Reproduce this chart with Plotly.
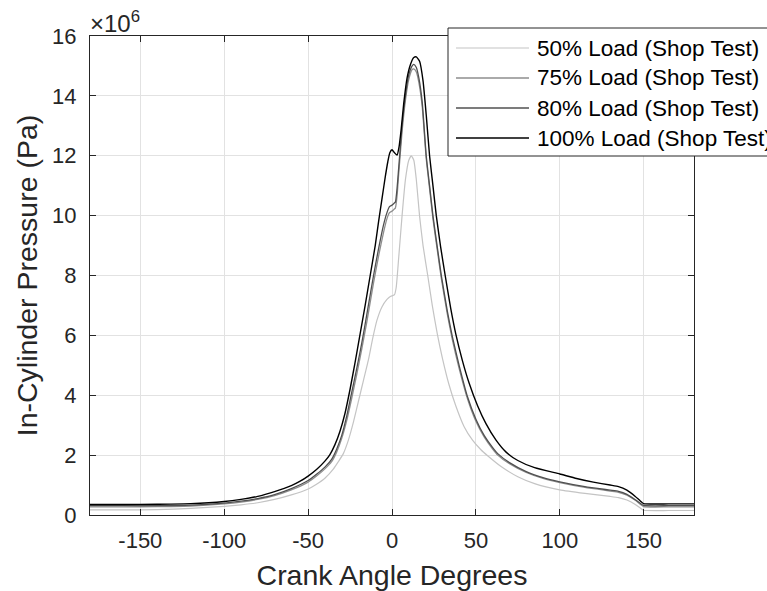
import plotly.graph_objects as go

# ---------------- data (pressure in units of 1e6 Pa) ----------------
deg_50 = [-180, -160, -140, -120, -100, -90, -80, -70, -60, -50, -45, -40, -35, -32, -29, -26, -23, -20, -17, -14,
          -11.5, -9, -6, -3, -1, 0.5, 1.5, 2.5, 4, 6, 8, 10, 11.5, 13, 14.5, 16.4, 18.5, 21.3, 24, 27, 30, 34, 38,
          43, 48, 53, 57, 65, 75, 85, 100, 115, 130, 135, 140, 145, 148, 150, 165, 180]
p_50 = [0.17, 0.17, 0.18, 0.22, 0.29, 0.34, 0.41, 0.52, 0.67, 0.87, 1.03, 1.23, 1.53, 1.78, 2.05, 2.5, 3.1, 3.8,
        4.5, 5.2, 5.9, 6.5, 6.95, 7.2, 7.3, 7.33, 7.36, 7.6, 8.6, 10.0, 11.2, 11.85, 12.0, 11.85, 11.2, 10.0, 9.0,
        8.0, 7.0, 6.05, 5.25, 4.35, 3.65, 2.95, 2.5, 2.18, 1.98, 1.62, 1.28, 1.05, 0.84, 0.72, 0.62, 0.58, 0.5,
        0.35, 0.23, 0.16, 0.15, 0.15]

deg_75 = [-180, -160, -140, -120, -100, -90, -80, -70, -60, -50, -45, -40, -36, -33, -30, -27, -24, -21, -18, -15,
          -11, -8, -5, -3, -1.5, 0, 1, 2, 3, 4, 6, 8, 10, 12, 13, 14.5, 16, 18, 20.4, 22.4, 24.4, 27, 29.4, 33, 36,
          40, 45, 50, 55, 60, 63, 70, 80, 90, 100, 115, 130, 135, 140, 145, 148, 150, 165, 180]
p_75 = [0.27, 0.27, 0.28, 0.3, 0.37, 0.43, 0.52, 0.65, 0.84, 1.1, 1.3, 1.54, 1.78, 2.1, 2.55, 3.15, 3.9, 4.7, 5.55,
        6.45, 7.75, 8.65, 9.45, 9.9, 10.1, 10.15, 10.2, 10.25, 10.65, 11.4, 12.8, 13.85, 14.55, 14.88, 14.9, 14.8,
        14.45, 13.65, 11.9, 10.9, 9.9, 8.85, 7.9, 6.7, 5.85, 4.9, 3.88, 3.13, 2.6, 2.2, 2.0, 1.71, 1.42, 1.22,
        1.08, 0.92, 0.8, 0.76, 0.66, 0.49, 0.36, 0.28, 0.27, 0.27]

deg_80 = [-180, -160, -140, -120, -100, -90, -80, -70, -60, -50, -45, -40, -36, -33, -30, -27, -24, -21, -18, -15,
          -11, -8, -5, -3, -1.5, 0, 1, 2, 3, 4, 6, 8, 10, 12, 13, 14.5, 16, 18, 20.4, 22.4, 24.4, 27, 29.4, 33, 36,
          40, 45, 50, 55, 60, 63, 70, 80, 90, 100, 115, 130, 135, 140, 145, 148, 150, 165, 180]
p_80 = [0.31, 0.31, 0.31, 0.33, 0.4, 0.46, 0.55, 0.68, 0.88, 1.15, 1.36, 1.6, 1.86, 2.2, 2.65, 3.3, 4.1, 4.9, 5.75,
        6.7, 8.0, 8.9, 9.7, 10.1, 10.3, 10.35, 10.4, 10.45, 10.9, 11.6, 13.0, 14.0, 14.7, 15.0, 15.05, 14.95, 14.6,
        13.8, 12.0, 11.0, 10.0, 8.95, 8.0, 6.8, 5.95, 5.0, 3.95, 3.2, 2.65, 2.25, 2.05, 1.75, 1.45, 1.25, 1.11,
        0.95, 0.83, 0.79, 0.69, 0.51, 0.39, 0.32, 0.31, 0.31]

deg_100 = [-180, -160, -140, -120, -100, -90, -80, -70, -60, -55, -50, -45, -40, -37, -34, -31, -28, -25, -22, -19,
           -16, -13, -10, -8, -6, -4, -2.5, -1.3, 0, 1.5, 3, 4.2, 5.5, 7, 9, 11, 13, 14.5, 16.5, 18.5, 20.5, 22.4,
           24.4, 26.4, 29, 31.7, 35, 38, 42, 46, 51, 56, 62, 68, 75, 85, 100, 110, 120, 130, 135, 140, 145, 148,
           150, 165, 180]
p_100 = [0.35, 0.35, 0.36, 0.38, 0.45, 0.52, 0.62, 0.78, 0.98, 1.12, 1.3, 1.52, 1.8, 2.02, 2.35, 2.8, 3.4, 4.2, 5.1,
         6.05, 7.0, 8.0, 9.0, 9.8, 10.55, 11.3, 11.8, 12.1, 12.2, 12.1, 12.02, 12.3, 12.9, 13.75, 14.6, 15.05,
         15.28, 15.3, 15.15, 14.5, 13.3, 12.0, 11.0, 10.0, 8.95, 8.0, 6.9, 6.05, 5.15, 4.4, 3.65, 3.05, 2.5, 2.1,
         1.82, 1.58, 1.37, 1.22, 1.1, 1.0, 0.95, 0.83, 0.62, 0.47, 0.38, 0.37, 0.37]

series_names = ["50% Load (Shop Test)", "75% Load (Shop Test)", "80% Load (Shop Test)", "100% Load (Shop Test)"]
series_x = [deg_50, deg_75, deg_80, deg_100]
series_y = [p_50, p_75, p_80, p_100]
series_colors = ["#c4c4c4", "#8e8e8e", "#505050", "#000000"]
series_widths = [1.2, 1.3, 1.3, 1.4]

x_ticks = [-150, -100, -50, 0, 50, 100, 150]
x_tick_text = ["-150", "-100", "-50", "0", "50", "100", "150"]
y_ticks = [0, 2, 4, 6, 8, 10, 12, 14, 16]
y_tick_text = ["0", "2", "4", "6", "8", "10", "12", "14", "16"]

FONT = "Arial, Liberation Sans, sans-serif"
AX = "#262626"

fig = go.Figure()
for xs, ys, nm, col, w in zip(series_x, series_y, series_names, series_colors, series_widths):
    fig.add_trace(go.Scatter(x=xs, y=ys, mode="lines", name=nm, showlegend=False,
                             line=dict(color=col, width=w, shape="spline", smoothing=0.5)))

W, H = 767, 591
# plot area in page pixels: x 90..694, y 36..515
L, R, T, B = 90, 694, 36, 515
def px(x):
    return (x - L) / (R - L)
def py(y):
    return (B - y) / (B - T)

shapes = [dict(type="rect", xref="paper", yref="paper", x0=px(448), x1=px(800), y0=py(156), y1=py(28),
               line=dict(color=AX, width=1), fillcolor="white", layer="above")]
annotations = []
row_y = [48, 78, 108, 138]
for nm, col, w, ry in zip(series_names, series_colors, series_widths, row_y):
    shapes.append(dict(type="line", xref="paper", yref="paper", x0=px(456), x1=px(529), y0=py(ry), y1=py(ry),
                       line=dict(color=col, width=w), layer="above"))
    annotations.append(dict(xref="paper", yref="paper", x=px(535), y=py(ry), xanchor="left", yanchor="middle",
                            text=nm, showarrow=False, font=dict(family=FONT, size=22.5, color="#000000")))

annotations.append(dict(xref="paper", yref="paper", x=px(88), y=py(22), xanchor="left", yanchor="middle",
                        text="×10<sup>6</sup>", showarrow=False, font=dict(family=FONT, size=24, color=AX)))

fig.update_layout(
    width=W, height=H,
    margin=dict(l=L, r=W - R, t=T, b=H - B, autoexpand=False),
    paper_bgcolor="white", plot_bgcolor="white",
    font=dict(family=FONT, size=22, color=AX),
    shapes=shapes, annotations=annotations,
    showlegend=False,
)
fig.update_xaxes(range=[-180, 180], tickvals=x_ticks, ticktext=x_tick_text, ticks="inside", ticklen=6,
                 tickcolor=AX, showline=True, linecolor=AX, linewidth=1, mirror="ticks",
                 showgrid=True, gridcolor="#e2e2e2", gridwidth=1, zeroline=False,
                 tickfont=dict(size=22, color=AX), ticklabelstandoff=6,
                 title=dict(text="Crank Angle Degrees", font=dict(size=28.5, color=AX), standoff=12))
fig.update_yaxes(range=[0, 16], tickvals=y_ticks, ticktext=y_tick_text, ticks="inside", ticklen=6,
                 tickcolor=AX, showline=True, linecolor=AX, linewidth=1, mirror="ticks",
                 showgrid=True, gridcolor="#e2e2e2", gridwidth=1, zeroline=False,
                 tickfont=dict(size=22, color=AX), ticklabelstandoff=8,
                 title=dict(text="In-Cylinder Pressure (Pa)", font=dict(size=28.5, color=AX), standoff=6))

fig.write_html("out.html", config={"displayModeBar": False},
               post_script="document.body.style.margin='0';document.body.style.overflow='hidden';")
